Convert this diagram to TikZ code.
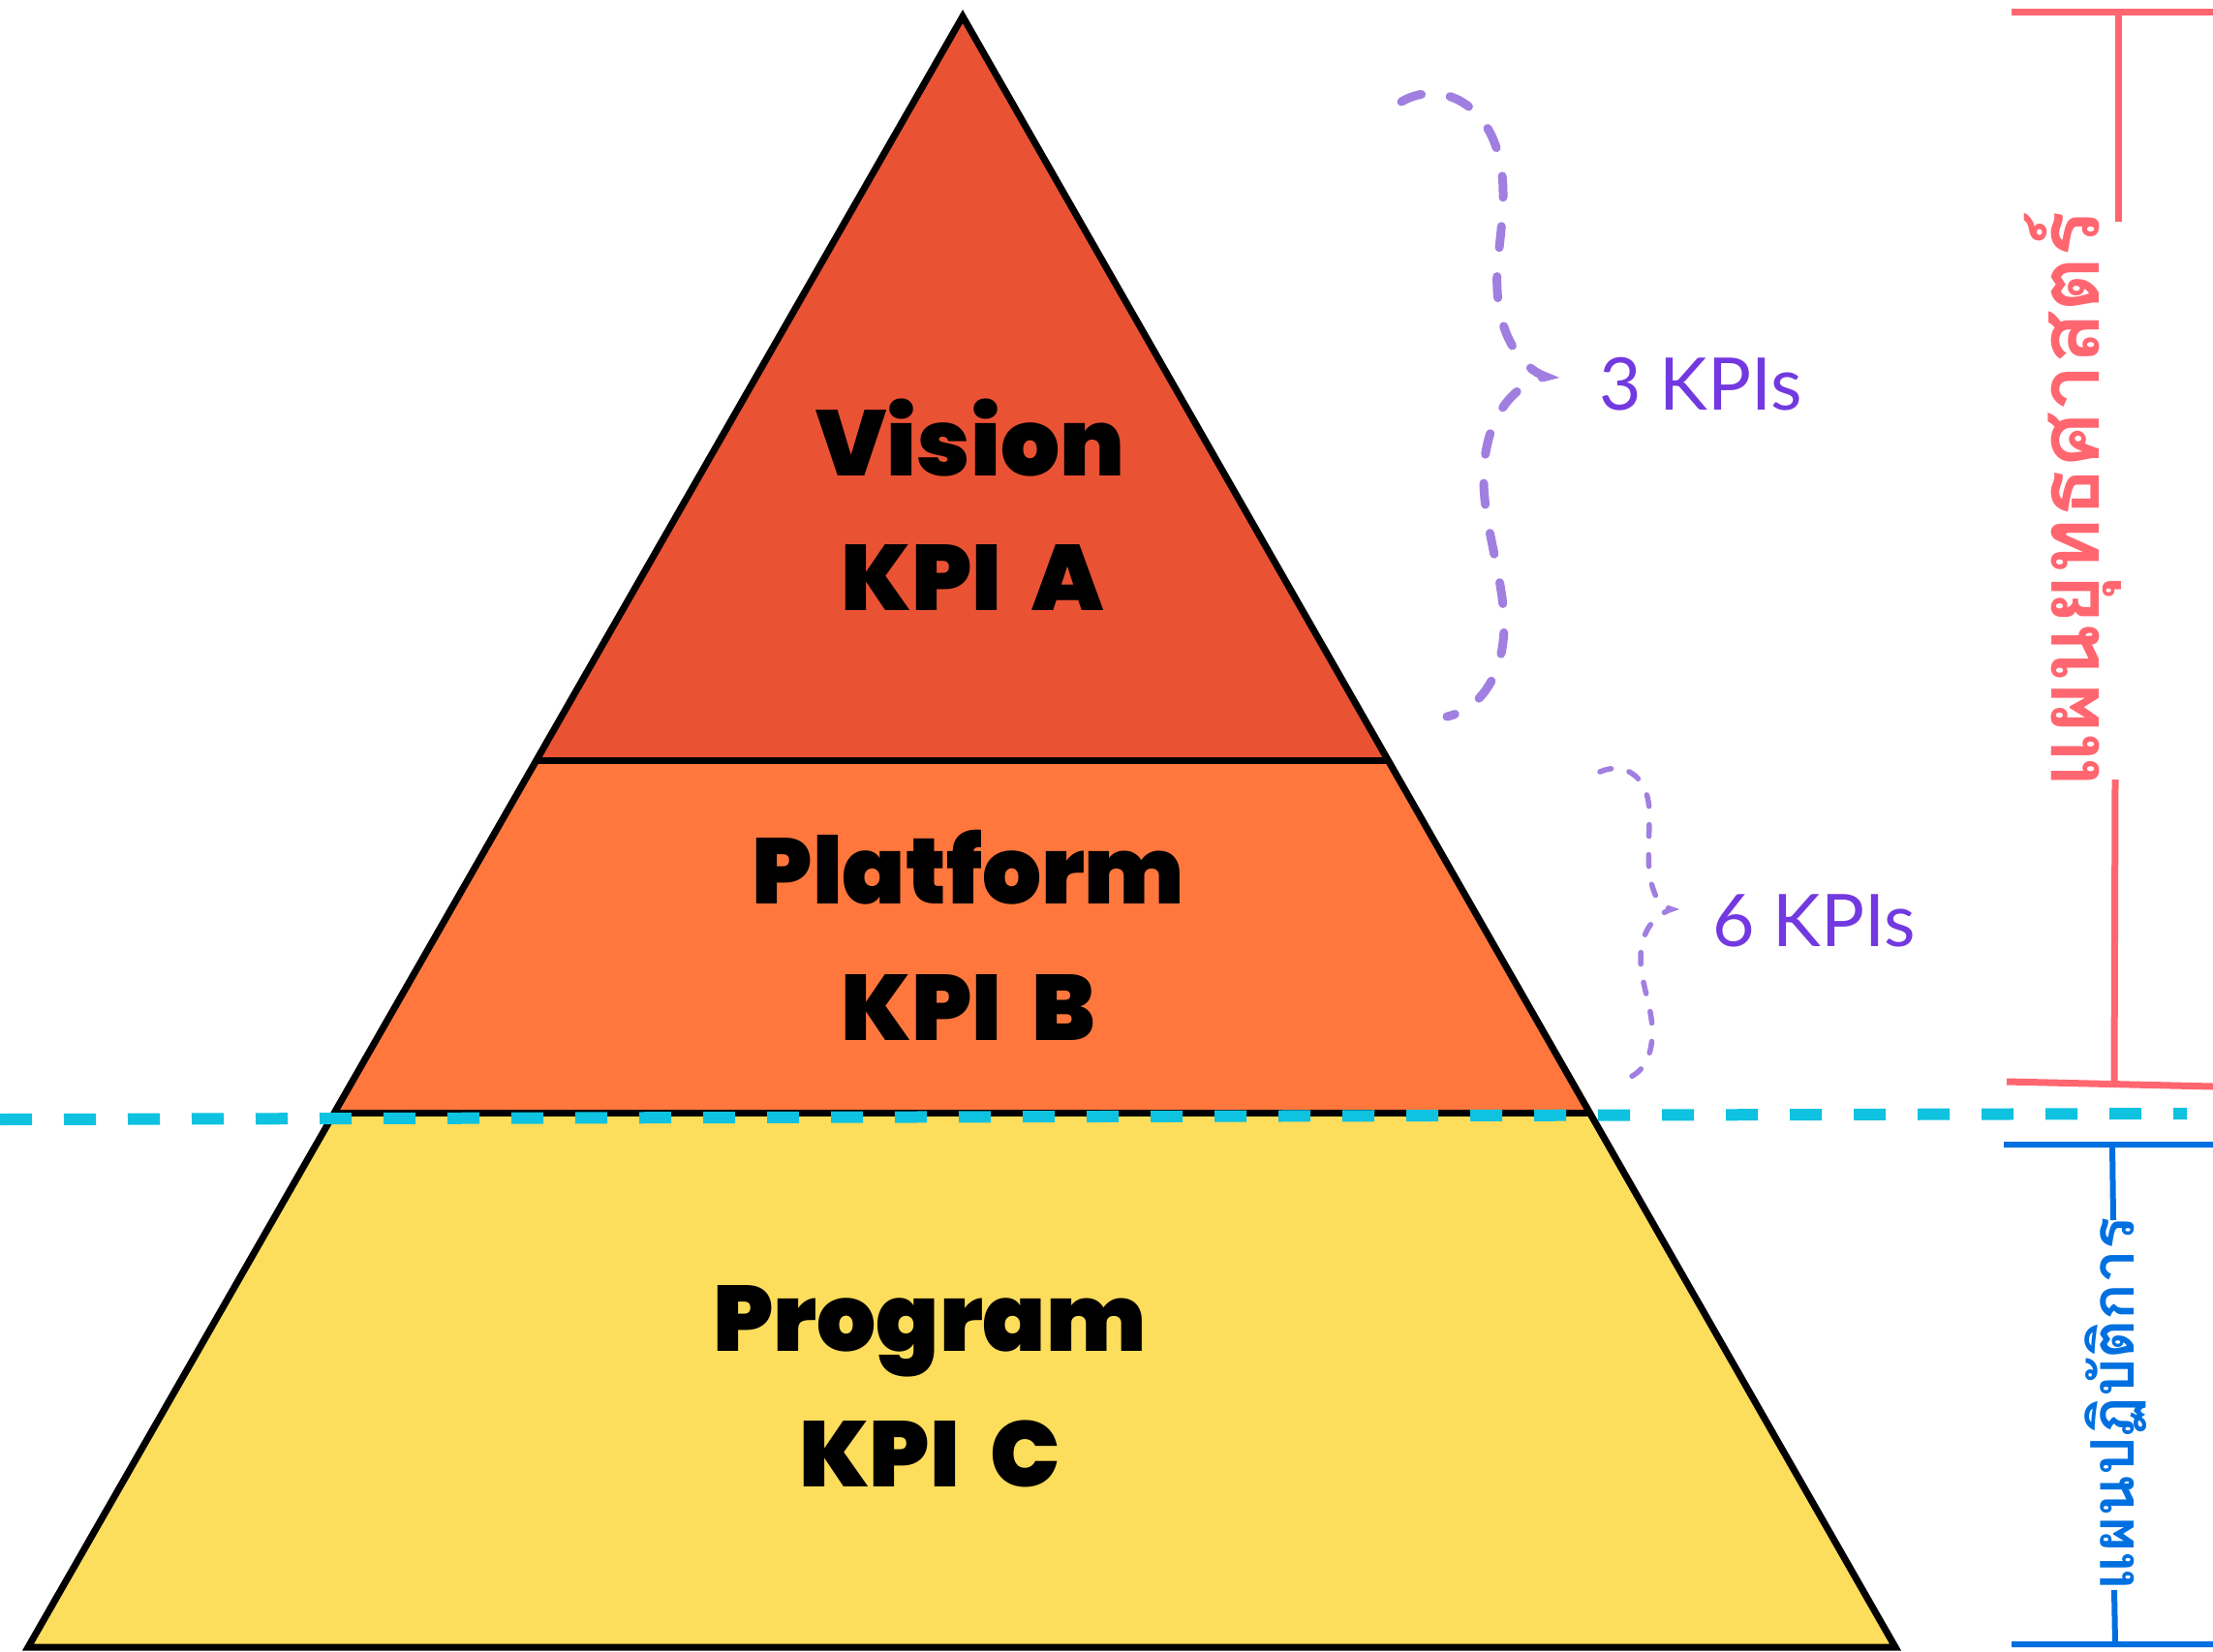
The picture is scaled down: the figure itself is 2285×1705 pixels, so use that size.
\documentclass[tikz,border=0pt]{standalone}
\usepackage{fontspec}
\setmainfont{Poppins}[BoldFont={Poppins Black},WordSpace=1.9]
\newfontfamily\countfont{Lato}
\newfontfamily\thaifont[Script=Thai]{Loma}
\definecolor{visionred}{HTML}{EA5234}
\definecolor{platformorange}{HTML}{FF773D}
\definecolor{programyellow}{HTML}{FDDD5C}
\definecolor{cutcyan}{HTML}{0EC2E0}
\definecolor{stratred}{HTML}{FF6670}
\definecolor{opsblue}{HTML}{0070E0}
\definecolor{countpurple}{HTML}{7339E0}
\definecolor{bracepurple}{HTML}{A07FE0}
\begin{document}
\begin{tikzpicture}[x=1pt,y=-1pt,
    tier/.style={font=\fontsize{96}{96}\selectfont\bfseries,anchor=base,inner sep=0pt},
    count/.style={font=\countfont\fontsize{75}{75}\selectfont,text=countpurple,anchor=base west,inner sep=0pt},
    plan/.style={rotate=90,anchor=base,inner sep=0pt},
    brace/.style={draw=bracepurple,line cap=round}]
  \useasboundingbox (0,0) rectangle (2285,1705);
  \fill[visionred] (994,17) -- (552,785) -- (1435,785) -- cycle;
  \fill[platformorange] (552,785) -- (1435,785) -- (1643,1149) -- (344,1149) -- cycle;
  \fill[programyellow] (344,1149) -- (1643,1149) -- (1957,1701) -- (29,1701) -- cycle;
  \draw[line width=7pt,miter limit=10] (994,17) -- (1957,1701) -- (29,1701) -- cycle;
  \draw[line width=7pt] (552,785) -- (1435,785) (344,1149) -- (1643,1149);
  \draw[cutcyan,line width=12pt,dash pattern=on 33pt off 33pt] (0,1156) -- (2258,1150);
  \draw
    (1002,491) node[tier] (vision){Vision}
    (1004,630) node[tier] (kpia){KPI A}
    (1000,933) node[tier] (platform){Platform}
    (1000,1074) node[tier] (kpib){KPI B}
    (960,1395) node[tier] (program){Program}
    (960,1535) node[tier] (kpic){KPI C};
  \begin{scope}[brace]
    \draw[line width=9pt,dash pattern=on 22pt off 30pt]
      (1447,105) .. controls (1490,80) and (1552,110) .. (1552,200)
      .. controls (1552,240) and (1544,270) .. (1546,300)
      .. controls (1548,345) and (1570,380) .. (1596,389)
      .. controls (1565,396) and (1530,430) .. (1532,500)
      .. controls (1533,545) and (1553,600) .. (1553,645)
      .. controls (1553,695) and (1530,732) .. (1494,740);
    \draw[line width=5.5pt,dash pattern=on 12pt off 19pt]
      (1652,797) .. controls (1680,785) and (1703,805) .. (1703,840)
      .. controls (1703,870) and (1700,900) .. (1706,915)
      .. controls (1710,930) and (1716,936) .. (1726,939)
      .. controls (1710,944) and (1694,960) .. (1694,990)
      .. controls (1694,1015) and (1706,1040) .. (1706,1065)
      .. controls (1706,1095) and (1694,1110) .. (1676,1115);
  \end{scope}
  \node[count] (threekpis) at (1651,423) {3 KPIs};
  \node[count] (sixkpis) at (1768,977) {6 KPIs};
  \begin{scope}[stratred,line width=7pt]
    \draw (2077,12) -- (2285,12) (2187,12) -- (2187,229);
    \draw (2184,805) -- (2183,1119) (2072,1117) -- (2285,1122);
    \node[plan,font=\thaifont\bfseries\fontsize{88}{88}\selectfont] (stratplan) at (2167,516) {แผนยุทธศาสตร์};
  \end{scope}
  \begin{scope}[opsblue,line width=6pt]
    \draw (2069,1182) -- (2285,1182) (2181,1182) -- (2182,1260);
    \draw (2183,1642) -- (2184,1698) (2077,1698) -- (2285,1698);
    \node[plan,font=\thaifont\bfseries\fontsize{62}{62}\selectfont] (opsplan) at (2203,1450) {แผนปฏิบัติการ};
  \end{scope}
\end{tikzpicture}
\end{document}
